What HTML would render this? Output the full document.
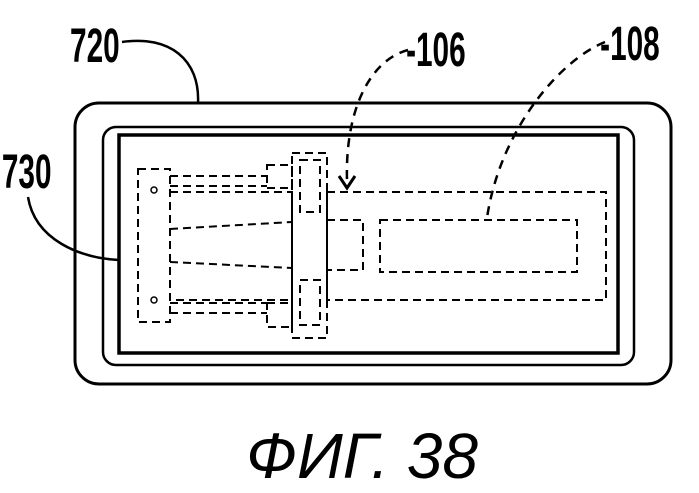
<!DOCTYPE html><html><head><style>body{margin:0;background:#fff}svg{display:block}</style></head><body>
<svg width="699" height="493" viewBox="0 0 699 493" xmlns="http://www.w3.org/2000/svg">
<g fill="none" stroke="#000">
<rect x="75" y="103" width="596" height="281" rx="24" stroke-width="3"/>
<rect x="103" y="127" width="531" height="238" rx="13" stroke-width="2.5"/>
<rect x="119" y="135" width="499" height="218" stroke-width="3.5"/>
<path d="M122 42 C170 35 200 60 198 103" stroke-width="2.5"/>
<path d="M28 197 C35 240 80 258 119 260" stroke-width="2.5"/>
<g stroke-width="2" stroke-dasharray="8,5">
<rect x="327" y="192" width="279" height="108"/>
<rect x="327" y="220" width="36" height="50"/>
<rect x="380" y="220" width="197" height="52"/>
<rect x="138" y="169" width="32" height="153"/>
<rect x="170" y="192" width="122" height="108"/>
<path d="M170 176 H267 M170 186 H267 M170 313 H267 M170 303 H267"/>
<rect x="267" y="165" width="25" height="23"/>
<rect x="267" y="303" width="25" height="24"/>
<rect x="292" y="153" width="35" height="185"/>
<rect x="300" y="160" width="20" height="52"/>
<rect x="300" y="280" width="20" height="45"/>
<path d="M170 229 L292 222 M170 262 L292 268"/>
</g>
<g stroke-width="2.5" stroke-dasharray="9,7">
<path d="M408 50 C370 60 345 110 347 180"/>
<path d="M605 42 C560 60 500 130 487 218"/>
</g>
<path d="M339 176 L347 188 L355 176" stroke-width="3"/>
<circle cx="154" cy="190" r="3" stroke-width="1.5"/>
<circle cx="154" cy="300" r="3" stroke-width="1.5"/>
</g>
<g font-family="Liberation Sans Narrow, Liberation Sans, sans-serif" font-weight="bold" font-size="48" transform="scale(0.62,1)">
<text x="113" y="62">720</text>
<text x="655" y="66">-106</text>
<text x="968" y="60">-108</text>
<text x="3" y="188">730</text>
</g>
<text x="362" y="478" text-anchor="middle" font-family="Liberation Sans, sans-serif" font-style="italic" font-size="64">ФИГ. 38</text>
</svg>
</body></html>
